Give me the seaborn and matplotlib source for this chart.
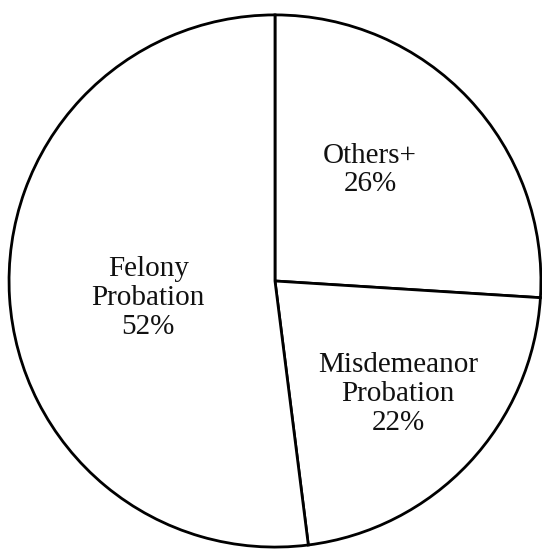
import numpy as np
import matplotlib
matplotlib.use("Agg")
import matplotlib.pyplot as plt
import seaborn as sns

categories = ["Others+", "Misdemeanor\nProbation", "Felony\nProbation"]
values = [26, 22, 52]
label_radius = [0.549, 0.628, 0.481]
label_angle_shift = [6.2, 0.6, 4.0]

sns.set_theme(style="white")
plt.rcParams['font.family'] = ['Liberation Serif', 'DejaVu Serif']

fig = plt.figure(figsize=(5.42, 5.5), dpi=100)
ax = fig.add_axes([0, 0, 1, 1])
wedges, _ = ax.pie(values, startangle=90, counterclock=False,
                   colors=["white"] * len(values),
                   wedgeprops=dict(edgecolor="black", linewidth=2.0),
                   radius=1.0)
for w, cat, v, r, s in zip(wedges, categories, values, label_radius, label_angle_shift):
    mid = np.deg2rad((w.theta1 + w.theta2) / 2 + s)
    ax.text(r * np.cos(mid), r * np.sin(mid), f"{cat}\n{v}%",
            ha="center", va="center", fontsize=21, linespacing=1.14, color="#111111")
ax.set_aspect("auto")
ax.set_xlim(-1.034, 1.004)
ax.set_ylim(-1.011, 1.056)
ax.axis("off")
fig.savefig("out.png", dpi=100, facecolor="white")
